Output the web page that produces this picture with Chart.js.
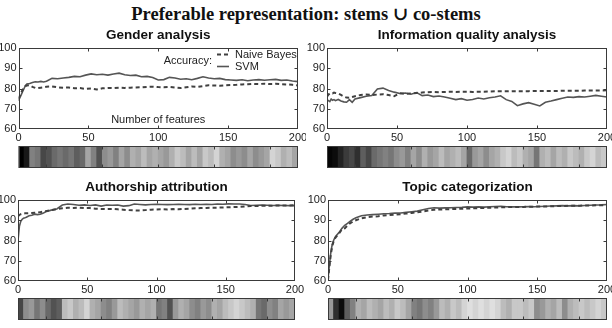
<!DOCTYPE html>
<html><head><meta charset="utf-8">
<script src="https://cdn.jsdelivr.net/npm/chart.js@4.4.1/dist/chart.umd.min.js"></script>
<style>
html,body{margin:0;padding:0;background:#fff}
body{width:612px;height:328px;overflow:hidden;position:relative;font-family:"Liberation Sans",Arial,sans-serif}
#title{position:absolute;left:0;top:4px;width:612px;text-align:center;font:bold 18.5px "Liberation Serif","DejaVu Serif",serif;color:#111;line-height:20px}
canvas{position:absolute}
</style></head><body>
<div id="title">Preferable representation: stems ∪ co-stems</div>
<canvas id="l0" width="306" height="117" style="left:0;top:28px"></canvas>
<canvas id="l1" width="306" height="117" style="left:306px;top:28px"></canvas>
<canvas id="l2" width="306" height="117" style="left:0;top:180px"></canvas>
<canvas id="l3" width="306" height="117" style="left:306px;top:180px"></canvas>
<canvas id="h0" width="306" height="22" style="left:0;top:146px"></canvas>
<canvas id="h1" width="306" height="22" style="left:306px;top:146px"></canvas>
<canvas id="h2" width="306" height="22" style="left:0;top:298px"></canvas>
<canvas id="h3" width="306" height="22" style="left:306px;top:298px"></canvas>
<script>
// ---------- data ----------
const titles = ["Gender analysis", "Information quality analysis", "Authorship attribution", "Topic categorization"];
const seriesNames = ["Naive Bayes", "SVM"];
const xTicks = [0, 50, 100, 150, 200];
const yTicks = [60, 70, 80, 90, 100];
const features = [0,1,2,3,4,5,6,8,10,12,14,16,18,20,24,28,32,36,40,44,48,52,56,60,64,68,72,76,80,84,88,92,96,100,104,108,112,116,120,124,128,132,136,140,144,148,152,156,160,164,168,172,176,180,184,188,192,196,200];

const genderNB  = [75,76.5,78,79.5,80.5,81.2,81.5,81.6,80.8,80.3,80.2,80.4,80.6,80.9,81,80.6,80.4,80.5,80.1,80.2,79.8,80,79.5,80.1,80.3,80.2,80.4,80.3,80.4,80.5,80.6,80.8,80.9,80.7,80.6,80.8,80.5,80.2,80.6,81,80.8,81.2,81.6,81.5,81.4,81.6,81.7,81.8,82,82.1,82.3,82.2,82.4,82.2,82.3,82.1,82,81.8,81.5];
const genderSVM = [74,75.5,77,78.5,80,81.5,82.2,82.5,83,83.3,83.2,83.5,83.2,83.6,85,84.8,85.2,85.5,86,85.8,86.6,87.2,86.8,87,86.6,87.2,87.6,86.8,86.4,86.6,85.8,86,85.4,84.2,84.4,85.5,85.2,84.6,84.8,84.3,85,85.8,85.2,84.8,85,84.4,84.2,84,84.3,83.8,84.2,84.4,84.1,84.3,84.5,84,84.2,83.7,83.4];
const infoNB    = [76,77,77.5,77.8,77.6,78,77.8,77.5,76.8,76,75.5,75.4,75.8,76.2,76.8,77,76.8,77,77.2,76.8,76.2,77.6,77.4,77.6,77.8,78,78.2,78.3,78.2,78.3,78.4,78.3,78.4,78.4,78.3,78.4,78.4,78.5,78.6,78.6,78.6,78.7,78.7,78.7,78.7,78.8,78.8,78.8,78.8,78.8,78.9,78.9,78.9,78.9,79,79,79,79,79.1];
const infoSVM   = [74.5,74,73.5,74.8,74.2,74.5,74,74.6,73.8,73.4,73.2,74.5,73.2,74.8,75.5,76.2,76.5,79.8,80.2,79,78.2,77.5,77.8,77.2,78,76.5,76.8,76,76.3,75.8,75.2,74.5,75,74.2,74.6,75.3,74.8,75.4,75.8,76.4,74.5,73.6,71.5,72.4,73,72.2,71.4,73.2,73.8,74.5,75.2,75.8,75.6,76,75.8,76.2,76.6,76.2,75.8];
const authNB    = [92,92.6,93,93.2,93.3,93.4,93.4,93.5,93.6,93.7,93.8,94,94.2,94.5,95,95.5,95.9,96.2,96.1,96.2,96,96,95.7,95.6,95.5,95.6,95.4,95.2,95,94.9,94.8,95,95.2,95.3,95.4,95.3,95.5,95.4,95.6,95.7,95.9,96,96.1,96.2,96.2,96.3,96.4,96.5,96.6,96.8,97,97,97.1,97.2,97.2,97.3,97.3,97.3,97.4];
const authSVM   = [80,87,89.5,90.5,91,91.2,91.5,92.2,92.5,93,92.8,93,93.4,94.2,95,95.6,97.5,98,97.8,97.4,97.6,97.3,97.6,97,97.5,97.4,97.5,97,97.2,98,97.8,97.6,97.8,97.9,97.8,97.7,97.8,97.9,97.8,97.7,97.9,97.8,97.9,97.8,98,97.9,98.1,98,98,97.8,97.3,97.4,97.5,97.4,97.3,97.4,97.3,97.2,97.2];
const topicNB   = [60.5,67,73,77,79.5,81,82,83.5,85.5,86,87.5,88.5,89.5,90,91,91.5,91.8,92,92.4,92.6,92.8,93,93.3,93.6,94,94.3,94.8,95.2,95.3,95.4,95.5,95.6,95.7,95.8,95.9,96,96.1,96.2,96.3,96.4,96.5,96.5,96.6,96.6,96.7,96.7,96.8,96.8,96.9,97,97,97.1,97.1,97.2,97.3,97.3,97.4,97.4,97.5];
const topicSVM  = [61,68,74,78,80,81.5,82.5,84,86,87.5,88.5,89.5,90.5,91.2,92.2,92.6,92.8,93,93.2,93.3,93.5,93.6,93.9,94.2,94.5,95.2,95.8,96.2,96,96.1,96.2,96.3,96.4,96.6,96.5,96.6,96.5,96.7,96.8,96.9,96.7,96.6,96.6,96.7,96.8,96.7,96.8,96.9,97,97.1,97.2,97.1,97.2,97.1,97.3,97.4,97.5,97.6,97.8];

// gray level (0 = black, 1 = white) of the feature strips, one value per block of 4 features
const genderStrip = [0,0.1,0.55,0.5,0.3,0.35,0.45,0.5,0.45,0.5,0.4,0.45,0.7,0.55,0.35,0.6,0.65,0.55,0.7,0.6,0.75,0.7,0.8,0.7,0.75,0.7,0.65,0.75,0.85,0.8,0.7,0.8,0.7,0.85,0.8,0.9,0.75,0.7,0.6,0.65,0.6,0.7,0.6,0.65,0.7,0.9,0.85,0.75,0.8,0.7];
const infoStrip   = [0.02,0.05,0.15,0.25,0.3,0.2,0.4,0.3,0.45,0.5,0.55,0.5,0.6,0.65,0.55,0.7,0.6,0.75,0.65,0.7,0.8,0.7,0.75,0.8,0.7,0.45,0.65,0.7,0.6,0.7,0.75,0.85,0.9,0.8,0.85,0.75,0.7,0.5,0.75,0.8,0.7,0.8,0.75,0.85,0.8,0.75,0.85,0.9,0.8,0.85];
const authStrip   = [0.3,0.6,0.65,0.5,0.6,0.45,0.35,0.4,0.8,0.85,0.75,0.8,0.9,0.75,0.7,0.6,0.55,0.65,0.8,0.75,0.7,0.65,0.75,0.7,0.75,0.5,0.55,0.35,0.65,0.75,0.7,0.6,0.55,0.65,0.6,0.75,0.7,0.8,0.85,0.9,0.85,0.8,0.75,0.5,0.45,0.6,0.55,0.7,0.65,0.7];
const topicStrip  = [0.65,0.2,0.05,0.4,0.55,0.75,0.7,0.8,0.75,0.7,0.8,0.75,0.85,0.8,0.7,0.55,0.5,0.6,0.55,0.65,0.8,0.75,0.85,0.8,0.9,0.95,0.9,0.95,0.9,0.95,0.9,0.8,0.75,0.85,0.85,0.8,0.85,0.6,0.65,0.75,0.7,0.8,0.6,0.75,0.8,0.85,0.8,0.85,0.9,0.85];

// ---------- drawing ----------
const FONT = '"Liberation Sans", Arial, Helvetica, sans-serif';
const INK = '#222';
const FRAME = '#3a3a3a';

const framePlugin = {
  id: 'frame',
  afterDraw(chart) {
    const {ctx, chartArea: a} = chart;
    const xs = chart.scales.xt || chart.scales.x;
    const ys = chart.scales.y;
    const isStrip = !!chart.scales.xt;
    ctx.save();
    ctx.strokeStyle = FRAME; ctx.lineWidth = 1;
    const L = Math.round(a.left) + 0.5, R = Math.round(a.right) - 0.5;
    const T = Math.round(a.top) + 0.5, B = Math.round(a.bottom) - 0.5;
    ctx.strokeRect(L, T, R - L, B - T);
    ctx.beginPath();
    xTicks.forEach(v => {
      const px = Math.round(xs.getPixelForValue(v)) + 0.5;
      if (px <= L + 1 || px >= R - 1) return;
      ctx.moveTo(px, T); ctx.lineTo(px, T + 3);
      ctx.moveTo(px, B); ctx.lineTo(px, B - 3);
    });
    if (!isStrip) {
      yTicks.forEach(v => {
        const py = Math.round(ys.getPixelForValue(v)) + 0.5;
        if (py <= T + 1 || py >= B - 1) return;
        ctx.moveTo(L, py); ctx.lineTo(L + 3, py);
        ctx.moveTo(R, py); ctx.lineTo(R - 3, py);
      });
    }
    ctx.stroke();
    ctx.restore();
  }
};

const accLegend = {
  id: 'accLegend',
  afterDatasetsDraw(chart) {
    const {ctx, chartArea: a} = chart;
    const ds = chart.data.datasets;
    ctx.save();
    ctx.font = '11px ' + FONT;
    ctx.fillStyle = INK;
    ctx.textBaseline = 'middle';
    ctx.textAlign = 'right';
    ctx.fillText('Accuracy:', a.right - 86, a.top + 12.5);
    ctx.textAlign = 'left';
    ctx.fillText(ds[0].label, a.right - 63, a.top + 6.5);
    ctx.fillText(ds[1].label, a.right - 63, a.top + 19);
    ctx.strokeStyle = ds[0].borderColor; ctx.lineWidth = ds[0].borderWidth;
    ctx.setLineDash(ds[0].borderDash);
    ctx.beginPath(); ctx.moveTo(a.right - 81, a.top + 6.5); ctx.lineTo(a.right - 69, a.top + 6.5); ctx.stroke();
    ctx.setLineDash([]);
    ctx.strokeStyle = ds[1].borderColor; ctx.lineWidth = ds[1].borderWidth;
    ctx.beginPath(); ctx.moveTo(a.right - 81, a.top + 18.5); ctx.lineTo(a.right - 69, a.top + 18.5); ctx.stroke();
    ctx.textAlign = 'center';
    ctx.fillText('Number of features', (a.left + a.right) / 2, a.bottom - 9);
    ctx.restore();
  }
};

function lineChart(id, title, nb, svm, yWidth, padRight, extra) {
  const pts = arr => features.map((x, i) => ({x, y: arr[i]}));
  return new Chart(document.getElementById(id), {
    type: 'line',
    data: {
      datasets: [
        {label: seriesNames[0], data: pts(nb), borderColor: '#404040', borderWidth: 2, borderDash: [4, 3], pointRadius: 0, tension: 0, fill: false},
        {label: seriesNames[1], data: pts(svm), borderColor: '#555555', borderWidth: 1.6, pointRadius: 0, tension: 0, fill: false}
      ]
    },
    options: {
      responsive: false, animation: false, events: [],
      layout: {padding: {left: 0, right: padRight, top: 0, bottom: 0}},
      plugins: {
        legend: {display: false}, tooltip: {enabled: false},
        title: {display: true, text: title, fullSize: false, color: '#111',
                font: {family: FONT, size: 13.5, weight: 'bold', lineHeight: 1.1}, padding: {top: 0, bottom: 5.15}}
      },
      scales: {
        x: {type: 'linear', min: 0, max: 200,
            grid: {display: false, drawTicks: false}, border: {display: false},
            ticks: {stepSize: 50, maxRotation: 0, autoSkip: false, color: INK, padding: 2, font: {family: FONT, size: 11}},
            afterFit(s) { s.height = 16; s.paddingLeft = 0; s.paddingRight = 0; }},
        y: {min: 60, max: 100,
            grid: {display: false, drawTicks: false}, border: {display: false},
            ticks: {stepSize: 10, color: INK, padding: 2, font: {family: FONT, size: 11}},
            afterFit(s) { s.width = yWidth; s.paddingTop = 0; s.paddingBottom = 0; }}
      }
    },
    plugins: extra ? [framePlugin, extra] : [framePlugin]
  });
}

function stripChart(id, strip, padLeft, padRight) {
  const gray = g => { const v = Math.round(g * 235); return `rgb(${v},${v},${v})`; };
  return new Chart(document.getElementById(id), {
    type: 'bar',
    data: {
      labels: strip.map((_, i) => i),
      datasets: [{data: strip.map(() => 1), backgroundColor: strip.map(gray), borderWidth: 0,
                  barPercentage: 1, categoryPercentage: 1, inflateAmount: 0.4}]
    },
    options: {
      responsive: false, animation: false, events: [],
      layout: {padding: {left: padLeft, right: padRight, top: 0, bottom: 0}},
      plugins: {legend: {display: false}, tooltip: {enabled: false}, title: {display: false}},
      scales: {
        x: {display: false},
        y: {display: false, min: 0, max: 1},
        xt: {type: 'linear', axis: 'x', position: 'bottom', display: false, min: 0, max: 200}
      }
    },
    plugins: [framePlugin]
  });
}

lineChart('l0', titles[0], genderNB, genderSVM, 18.5, 8, accLegend);
lineChart('l1', titles[1], infoNB, infoSVM, 21, 5);
lineChart('l2', titles[2], authNB, authSVM, 18, 11);
lineChart('l3', titles[3], topicNB, topicSVM, 22, 5);
stripChart('h0', genderStrip, 18.5, 8);
stripChart('h1', infoStrip, 21, 5);
stripChart('h2', authStrip, 18, 11);
stripChart('h3', topicStrip, 22, 5);
</script>
</body></html>
